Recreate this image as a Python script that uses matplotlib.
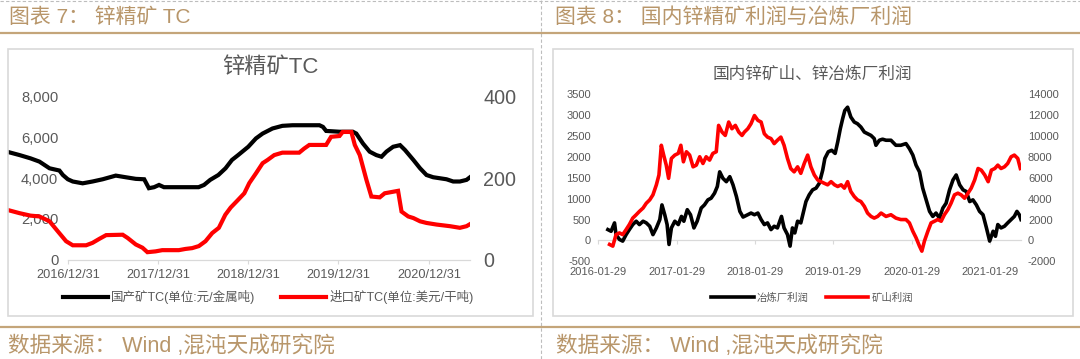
import matplotlib
matplotlib.use("Agg")
import matplotlib.pyplot as plt
import matplotlib.dates as mdates
from matplotlib.lines import Line2D
from matplotlib.patches import Rectangle
from matplotlib.ticker import FuncFormatter
import pandas as pd

plt.rcParams['font.family'] = ['Liberation Sans', 'Noto Sans CJK SC']
plt.rcParams['axes.unicode_minus'] = False

# ---------------- data: left chart (锌精矿TC) ----------------
domestic_dates = ['2016-05-01', '2016-06-19', '2016-08-02', '2016-09-07', '2016-10-18', '2016-11-27',
                  '2016-12-11', '2016-12-31', '2017-01-20', '2017-03-01', '2017-04-10', '2017-05-21',
                  '2017-07-13', '2017-08-22', '2017-10-02', '2017-11-05', '2017-11-24', '2017-12-15',
                  '2018-01-04', '2018-01-24', '2018-02-20', '2018-06-13', '2018-07-05', '2018-07-30',
                  '2018-09-01', '2018-09-30', '2018-10-26', '2018-11-20', '2018-12-31', '2019-01-31',
                  '2019-02-27', '2019-04-08', '2019-05-18', '2019-06-28', '2019-10-15', '2019-10-29',
                  '2019-11-11', '2020-01-04', '2020-02-27', '2020-03-12', '2020-04-08', '2020-05-05',
                  '2020-06-01', '2020-06-22', '2020-07-12', '2020-08-08', '2020-09-05', '2020-09-25',
                  '2020-10-29', '2020-11-25', '2020-12-21', '2021-01-17', '2021-02-13', '2021-03-12',
                  '2021-04-08', '2021-05-05', '2021-06-01', '2021-06-15']
domestic_tc = [5300, 5140, 4980, 4820, 4490, 4380,
               4160, 3950, 3840, 3750, 3840, 3950,
               4130, 4050, 3970, 3950, 3510, 3560,
               3670, 3560, 3560, 3560, 3670, 3920,
               4160, 4490, 4900, 5140, 5550, 5960,
               6200, 6450, 6580, 6610, 6610, 6530,
               6330, 6290, 6290, 6200, 5710, 5310,
               5140, 5060, 5310, 5550, 5630, 5390,
               4900, 4490, 4160, 4050, 4000, 3950,
               3840, 3840, 3920, 4050]

import_dates = ['2016-05-01', '2016-06-19', '2016-08-02', '2016-09-07', '2016-10-18', '2016-11-21',
                '2016-12-24', '2017-01-20', '2017-03-15', '2017-04-10', '2017-05-08', '2017-06-04',
                '2017-08-10', '2017-08-30', '2017-10-02', '2017-10-29', '2017-11-18', '2017-12-21',
                '2018-01-17', '2018-03-25', '2018-04-21', '2018-05-18', '2018-06-14', '2018-07-11',
                '2018-08-07', '2018-09-03', '2018-09-29', '2018-10-21', '2018-11-17', '2018-12-15',
                '2019-01-04', '2019-01-31', '2019-02-27', '2019-03-19', '2019-04-15', '2019-05-18',
                '2019-07-25', '2019-08-14', '2019-09-04', '2019-11-11', '2019-12-01', '2020-01-04',
                '2020-01-17', '2020-02-21', '2020-03-06', '2020-03-26', '2020-04-22', '2020-05-12',
                '2020-06-15', '2020-07-05', '2020-08-28', '2020-09-11', '2020-10-08', '2020-10-29',
                '2020-11-25', '2020-12-21', '2021-01-31', '2021-03-26', '2021-05-05', '2021-06-01',
                '2021-06-15']
import_tc = [122, 114, 108, 106, 94, 69,
             45, 35, 35, 41, 51, 60,
             61, 53, 37, 29, 18, 20,
             23, 23, 26, 28, 33, 45,
             65, 78, 110, 128, 145, 163,
             188, 212, 237, 245, 257, 263,
             263, 273, 282, 282, 302, 304,
             314, 314, 282, 257, 196, 155,
             153, 163, 169, 118, 106, 102,
             94, 90, 86, 82, 78, 82,
             87]

left_xtick_labels = ['2016/12/31', '2017/12/31', '2018/12/31', '2019/12/31', '2020/12/31']
left_yticks = [0, 2000, 4000, 6000, 8000]
left_y2ticks = [0, 200, 400]

# ---------------- data: right chart (国内锌矿山、锌冶炼厂利润) ----------------
smelter_dates = ['2016-03-15', '2016-03-30', '2016-04-15', '2016-04-22', '2016-05-08', '2016-05-23',
                 '2016-06-08', '2016-06-23', '2016-07-09', '2016-07-25', '2016-08-09', '2016-08-26',
                 '2016-09-10', '2016-09-26', '2016-10-11', '2016-10-27', '2016-11-12', '2016-11-22',
                 '2016-12-05', '2016-12-16', '2016-12-25', '2017-01-05', '2017-01-21', '2017-02-06',
                 '2017-02-21', '2017-03-04', '2017-03-20', '2017-04-04', '2017-04-20', '2017-05-05',
                 '2017-05-24', '2017-06-08', '2017-06-24', '2017-07-09', '2017-07-25', '2017-08-07',
                 '2017-08-18', '2017-09-02', '2017-09-18', '2017-10-04', '2017-10-19', '2017-11-04',
                 '2017-11-20', '2017-12-05', '2017-12-27', '2018-01-11', '2018-01-27', '2018-02-12',
                 '2018-02-27', '2018-03-14', '2018-03-29', '2018-04-14', '2018-04-29', '2018-05-14',
                 '2018-06-02', '2018-06-14', '2018-06-30', '2018-07-12', '2018-07-23', '2018-08-03',
                 '2018-08-16', '2018-08-31', '2018-09-13', '2018-09-24', '2018-10-09', '2018-10-25',
                 '2018-11-10', '2018-11-25', '2018-12-11', '2018-12-21', '2019-01-06', '2019-01-22',
                 '2019-02-07', '2019-02-19', '2019-03-03', '2019-03-14', '2019-03-24', '2019-04-06',
                 '2019-04-21', '2019-05-07', '2019-05-22', '2019-06-07', '2019-06-23', '2019-07-08',
                 '2019-07-24', '2019-08-08', '2019-08-16', '2019-09-01', '2019-09-16', '2019-10-02',
                 '2019-10-25', '2019-11-17', '2019-12-10', '2020-01-03', '2020-01-19', '2020-02-04',
                 '2020-02-19', '2020-03-06', '2020-03-21', '2020-04-06', '2020-04-22', '2020-05-07',
                 '2020-05-22', '2020-06-07', '2020-06-23', '2020-07-08', '2020-07-24', '2020-08-09',
                 '2020-08-24', '2020-09-09', '2020-09-25', '2020-10-10', '2020-10-26', '2020-11-10',
                 '2020-11-26', '2020-12-11', '2020-12-27', '2021-01-12', '2021-01-27', '2021-02-12',
                 '2021-02-23', '2021-03-06', '2021-03-21', '2021-04-06', '2021-04-21', '2021-05-07',
                 '2021-05-22', '2021-06-03', '2021-06-14', '2021-06-22']
smelter_profit = [260, 220, 420, 140, 25, -15,
                  140, 260, 380, 460, 380, 460,
                  420, 340, 140, 300, 500, 850,
                  615, 380, -95, 300, 460, 380,
                  575, 460, 735, 615, 300, 460,
                  775, 850, 970, 1010, 1130, 1290,
                  1640, 1485, 1405, 1525, 1330, 1050,
                  695, 560, 615, 655, 615, 655,
                  500, 380, 420, 260, 340, 300,
                  575, 300, 140, -135, 300, 180,
                  460, 420, 695, 930, 1090, 1210,
                  1250, 1365, 1680, 1960, 2120, 2155,
                  2080, 2355, 2670, 2910, 3105, 3185,
                  2950, 2830, 2790, 2710, 2590, 2550,
                  2510, 2435, 2275, 2395, 2420, 2395,
                  2395, 2275, 2275, 2315, 2195, 2040,
                  1800, 1640, 1250, 970, 695, 575,
                  655, 535, 775, 890, 1210, 1445,
                  1565, 1330, 1210, 1170, 930, 970,
                  850, 695, 615, 300, -15, 220,
                  100, 380, 300, 340, 420, 500,
                  575, 695, 615, 500]

mine_dates = ['2016-03-23', '2016-04-07', '2016-04-22', '2016-05-08', '2016-05-23', '2016-06-08',
              '2016-06-23', '2016-07-09', '2016-07-25', '2016-08-09', '2016-08-26', '2016-09-10',
              '2016-09-26', '2016-10-11', '2016-10-27', '2016-11-08', '2016-11-19', '2016-11-30',
              '2016-12-12', '2016-12-23', '2017-01-05', '2017-01-21', '2017-02-06', '2017-02-18',
              '2017-03-02', '2017-03-16', '2017-03-31', '2017-04-16', '2017-05-01', '2017-05-17',
              '2017-06-01', '2017-06-16', '2017-07-02', '2017-07-17', '2017-08-02', '2017-08-13',
              '2017-08-29', '2017-09-13', '2017-09-29', '2017-10-14', '2017-10-30', '2017-11-15',
              '2017-11-30', '2017-12-11', '2017-12-27', '2018-01-11', '2018-01-27', '2018-02-12',
              '2018-02-27', '2018-03-14', '2018-03-29', '2018-04-14', '2018-04-29', '2018-05-14',
              '2018-05-30', '2018-06-14', '2018-06-30', '2018-07-15', '2018-07-31', '2018-08-16',
              '2018-08-31', '2018-09-16', '2018-10-02', '2018-10-17', '2018-11-02', '2018-11-18',
              '2018-12-03', '2018-12-19', '2019-01-03', '2019-01-19', '2019-02-04', '2019-02-19',
              '2019-03-07', '2019-03-22', '2019-04-06', '2019-04-21', '2019-05-07', '2019-05-22',
              '2019-06-07', '2019-06-23', '2019-07-08', '2019-07-24', '2019-08-08', '2019-08-24',
              '2019-09-09', '2019-10-02', '2019-10-25', '2019-11-17', '2019-12-10', '2020-01-03',
              '2020-01-19', '2020-02-04', '2020-02-19', '2020-03-06', '2020-03-17', '2020-03-29',
              '2020-04-14', '2020-04-29', '2020-05-15', '2020-05-30', '2020-06-15', '2020-06-30',
              '2020-07-16', '2020-07-31', '2020-08-16', '2020-09-01', '2020-09-16', '2020-10-02',
              '2020-10-18', '2020-11-02', '2020-11-18', '2020-12-04', '2020-12-19', '2021-01-04',
              '2021-01-20', '2021-02-04', '2021-02-20', '2021-03-06', '2021-03-21', '2021-04-06',
              '2021-04-21', '2021-05-07', '2021-05-22', '2021-06-07', '2021-06-19']
mine_profit = [-380, -540, 560, 720, 560, 1040,
               1520, 2140, 2460, 2780, 3100, 3560,
               3880, 4360, 5320, 6260, 9100, 8160,
               7200, 5940, 7840, 8160, 8320, 9100,
               7520, 8480, 8160, 7040, 7200, 8000,
               7360, 8000, 7680, 8320, 8480, 11000,
               10360, 10040, 11320, 10680, 11000, 10360,
               10040, 10360, 10680, 11160, 11940, 11480,
               11320, 10200, 9880, 9740, 9260, 9580,
               9880, 9100, 7840, 6880, 6560, 7040,
               6420, 7360, 8160, 7040, 6260, 5780,
               5620, 5460, 5320, 5620, 5320, 5160,
               5320, 5000, 5620, 4680, 4200, 3880,
               3720, 3260, 2620, 2300, 2140, 2300,
               2620, 2300, 2460, 2140, 2000, 2000,
               1680, 880, 260, -540, -1020, -60,
               880, 1680, 1840, 2000, 1840, 2460,
               2940, 3560, 4360, 4520, 4360, 4040,
               4520, 5000, 5780, 6880, 6720, 6260,
               5620, 6720, 6880, 7200, 6880, 7040,
               7360, 8000, 8160, 7840, 6880]

right_xtick_labels = ['2016-01-29', '2017-01-29', '2018-01-29', '2019-01-29', '2020-01-29', '2021-01-29']
right_yticks = [-500, 0, 500, 1000, 1500, 2000, 2500, 3000, 3500]
right_y2ticks = [-2000, 0, 2000, 4000, 6000, 8000, 10000, 12000, 14000]

# ---------------- layout helpers ----------------
W, H = 1080, 359
TAN_TEXT = '#B8966A'
TAN_LINE = '#C4A57A'
GRAY = '#595959'
AXIS = '#D9D9D9'


def rect(x0, y_top, x1, y_bot):
    return [x0 / W, 1 - y_bot / H, (x1 - x0) / W, (y_bot - y_top) / H]


def pt(px):
    return px * 72.0 / 100.0


fig = plt.figure(figsize=(W / 100, H / 100), dpi=100)
fig.patch.set_facecolor('white')

# page decorations
fig.add_artist(Line2D([0, 1], [1 - 0.8 / H] * 2, transform=fig.transFigure,
                      color='#BDBDBD', lw=0.8, ls=(0, (3, 2))))
fig.add_artist(Line2D([541 / W] * 2, [0, 1], transform=fig.transFigure,
                      color='#BDBDBD', lw=0.8, ls=(0, (3, 2))))
for yy in (33, 327):
    fig.add_artist(Line2D([0, 1], [1 - yy / H] * 2, transform=fig.transFigure,
                          color=TAN_LINE, lw=1.6))
fig.text(9 / W, 1 - 17 / H, '图表 7： 锌精矿 TC', color=TAN_TEXT, fontsize=15, va='center', ha='left')
fig.text(555 / W, 1 - 17 / H, '图表 8： 国内锌精矿利润与冶炼厂利润', color=TAN_TEXT, fontsize=15,
         va='center', ha='left')
fig.text(8 / W, 1 - 346 / H, '数据来源： Wind ,混沌天成研究院', color=TAN_TEXT, fontsize=15.6,
         va='center', ha='left')
fig.text(556 / W, 1 - 346 / H, '数据来源： Wind ,混沌天成研究院', color=TAN_TEXT, fontsize=15.6,
         va='center', ha='left')

# chart frames
for x0, x1 in ((7.5, 533), (553, 1073)):
    fig.add_artist(Rectangle((x0 / W, 1 - 316 / H), (x1 - x0) / W, (316 - 49) / H,
                             transform=fig.transFigure, fill=False, edgecolor=AXIS, lw=1.2))

# ---------------- left chart ----------------
dom_x = pd.to_datetime(domestic_dates)
imp_x = pd.to_datetime(import_dates)
left_ticks = pd.to_datetime(left_xtick_labels, format='%Y/%m/%d')

ax1 = fig.add_axes(rect(7.5, 97, 470, 259.5))
ax1.patch.set_visible(False)
l_dom, = ax1.plot(dom_x, domestic_tc, color='black', lw=3.0, zorder=3,
                  solid_joinstyle='miter', label='国产矿TC(单位:元/金属吨)')
ax1.set_xlim(dom_x[0], dom_x[-1])
ax1.set_ylim(0, 8000)
ax1.set_yticks(left_yticks)
ax1.yaxis.set_major_formatter(FuncFormatter(lambda v, p: f'{v:,.0f}'))
ax1.tick_params(axis='y', length=0, pad=-pt(50.8), labelsize=10.6, labelcolor=GRAY)
ax1.set_xticks(left_ticks)
ax1.set_xticklabels(left_xtick_labels)
ax1.tick_params(axis='x', length=pt(4), width=0.8, color=AXIS, pad=pt(5),
                labelsize=9.2, labelcolor=GRAY)
for s in ('top', 'left', 'right'):
    ax1.spines[s].set_visible(False)
ax1.spines['bottom'].set_color(AXIS)
ax1.spines['bottom'].set_linewidth(0.9)
ax1.spines['bottom'].set_bounds(mdates.date2num(left_ticks[0]), mdates.date2num(dom_x[-1]))

ax1b = ax1.twinx()
l_imp, = ax1b.plot(imp_x, import_tc, color='#FF0000', lw=3.0, zorder=3,
                   solid_joinstyle='miter', label='进口矿TC(单位:美元/干吨)')
ax1b.set_ylim(0, 400)
ax1b.set_yticks(left_y2ticks)
ax1b.tick_params(axis='y', length=0, pad=pt(13), labelsize=14.2, labelcolor=GRAY)
for s in ax1b.spines.values():
    s.set_visible(False)

fig.text(270 / W, 1 - 67 / H, '锌精矿TC', color=GRAY, fontsize=16, ha='center', va='center')
fig.legend(handles=[l_dom, l_imp], loc='center', bbox_to_anchor=(268 / W, 1 - 297 / H),
           bbox_transform=fig.transFigure, ncol=2, frameon=False, fontsize=9,
           handlelength=3.6, handletextpad=0.3, columnspacing=2.0, borderpad=0,
           labelcolor=GRAY)

# ---------------- right chart ----------------
sm_x = pd.to_datetime(smelter_dates)
mi_x = pd.to_datetime(mine_dates)
right_ticks = pd.to_datetime(right_xtick_labels)

ax2 = fig.add_axes(rect(598, 94, 1021, 261.4))
ax2.patch.set_visible(False)
l_sm, = ax2.plot(sm_x, smelter_profit, color='black', lw=2.6, zorder=3, label='冶炼厂利润')
ax2.set_xlim(right_ticks[0], sm_x[-1])
ax2.set_ylim(-500, 3500)
ax2.set_yticks(right_yticks)
ax2.tick_params(axis='y', length=0, pad=pt(7), labelsize=8, labelcolor=GRAY)
ax2.set_xticks(right_ticks)
ax2.set_xticklabels(right_xtick_labels)
ax2.tick_params(axis='x', length=0, pad=pt(6), labelsize=8, labelcolor=GRAY)
for s in ax2.spines.values():
    s.set_visible(False)

zero_frac = (0 - (-500)) / (3500 - (-500))
sec = ax2.secondary_xaxis(zero_frac)
sec.set_xticks(right_ticks)
sec.tick_params(axis='x', length=pt(4), width=0.8, color=AXIS, labelbottom=False, labeltop=False)
for s in sec.spines.values():
    s.set_color(AXIS)
    s.set_linewidth(0.9)

ax2b = ax2.twinx()
l_mi, = ax2b.plot(mi_x, mine_profit, color='#FF0000', lw=2.6, zorder=3, label='矿山利润')
ax2b.set_ylim(-2000, 14000)
ax2b.set_yticks(right_y2ticks)
ax2b.tick_params(axis='y', length=0, pad=pt(7), labelsize=8, labelcolor=GRAY)
for s in ax2b.spines.values():
    s.set_visible(False)

fig.text(812 / W, 1 - 74 / H, '国内锌矿山、锌冶炼厂利润', color=GRAY, fontsize=12,
         ha='center', va='center')
fig.legend(handles=[l_sm, l_mi], loc='center', bbox_to_anchor=(812 / W, 1 - 298 / H),
           bbox_transform=fig.transFigure, ncol=2, frameon=False, fontsize=7.5,
           handlelength=4.1, handletextpad=0.3, columnspacing=1.6, borderpad=0,
           labelcolor=GRAY)

fig.savefig('out.png', dpi=100, facecolor='white')
